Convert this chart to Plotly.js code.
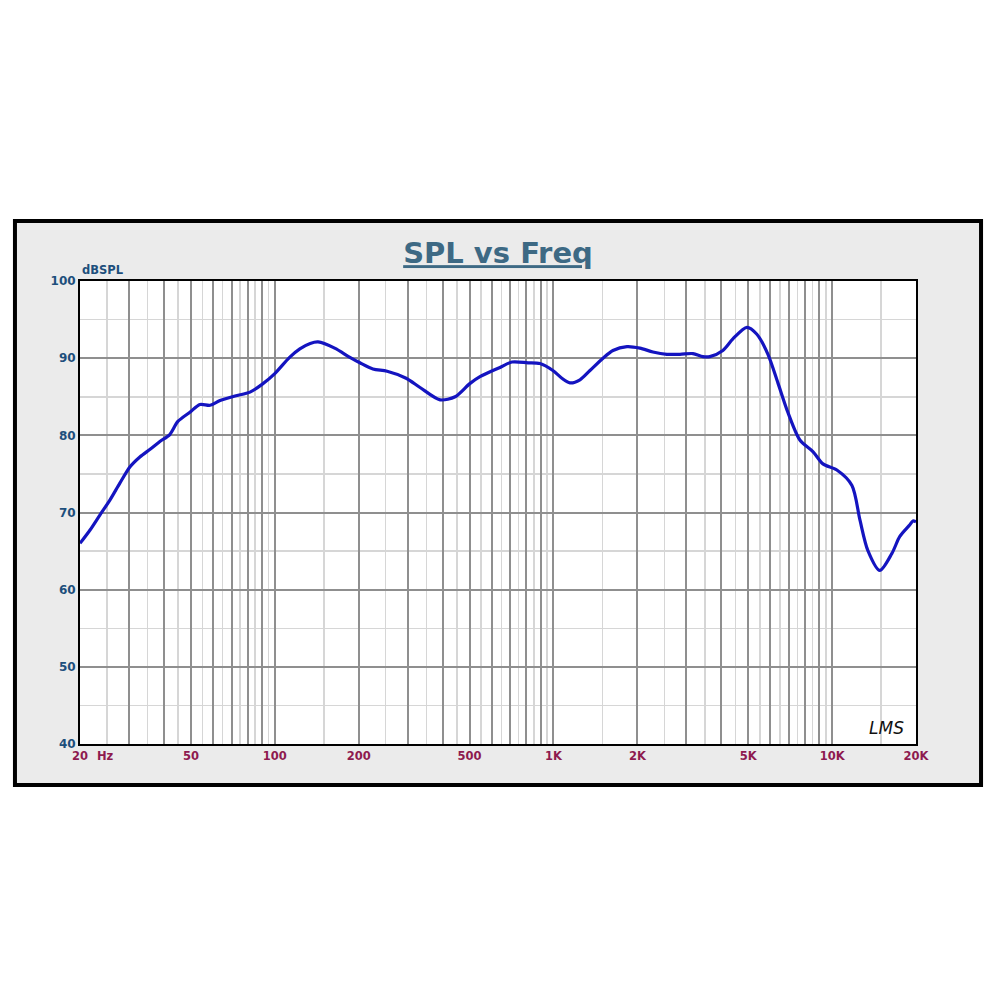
<!DOCTYPE html>
<html>
<head>
<meta charset="utf-8">
<script src="https://cdn.plot.ly/plotly-3.0.1.min.js"></script>
<style>html,body{margin:0;padding:0;background:#fff;}#chart{width:1000px;height:1000px;}</style>
</head>
<body>
<div id="chart"></div>
<script>
// Frequency response
const freqHz = [20, 21.7, 23.6, 25.6, 27.8, 30.2, 32.8, 35.7, 38.7, 42, 44.9, 49.6, 53.9, 58.6, 63.6, 72, 81.5, 90, 100, 113, 123, 134, 143, 164, 186, 202, 225, 253, 296, 332, 392, 444, 501, 545, 643, 710, 810, 894, 995, 1072, 1146, 1245, 1352, 1506, 1635, 1836, 2043, 2275, 2553, 2845, 3165, 3437, 3641, 4055, 4405, 4945, 5370, 5885, 6390, 6935, 7660, 8530, 9270, 10400, 11780, 12590, 13430, 14830, 16390, 17500, 19010, 19500, 20000];
const splDb = [66.0, 67.7, 69.7, 71.6, 73.8, 75.9, 77.2, 78.2, 79.2, 80.1, 81.8, 83.0, 84.0, 83.9, 84.5, 85.1, 85.6, 86.6, 88.0, 90.1, 91.2, 91.9, 92.1, 91.3, 90.1, 89.4, 88.6, 88.3, 87.4, 86.2, 84.6, 85.0, 86.7, 87.6, 88.8, 89.5, 89.4, 89.3, 88.4, 87.4, 86.8, 87.2, 88.4, 90.0, 91.0, 91.5, 91.3, 90.8, 90.5, 90.5, 90.6, 90.2, 90.2, 91.0, 92.5, 94.0, 93.1, 90.5, 86.8, 83.0, 79.4, 77.9, 76.3, 75.5, 73.5, 69.0, 65.1, 62.5, 64.7, 66.9, 68.4, 68.9, 68.8];

// Axis ticks
const xMajorVals = [20, 30, 40, 50, 60, 70, 80, 90, 100, 200, 300, 400, 500, 600, 700, 800, 900, 1000, 2000, 3000, 4000, 5000, 6000, 7000, 8000, 9000, 10000, 20000];
const xMajorText = ['20', '', '', '50', '', '', '', '', '100', '200', '', '', '500', '', '', '', '', '1K', '2K', '', '', '5K', '', '', '', '', '10K', '20K'];
const xMinorVals = [25, 35, 45, 55, 65, 75, 85, 95, 150, 250, 350, 450, 550, 650, 750, 850, 950, 1500, 2500, 3500, 4500, 5500, 6500, 7500, 8500, 9500, 15000];
const yMajorVals = [40, 50, 60, 70, 80, 90, 100];
const yMajorText = ['40', '50', '60', '70', '80', '90', '100'];
const yMinorVals = [45, 55, 65, 75, 85, 95];

const trace = {
  x: freqHz, y: splDb, type: 'scatter', mode: 'lines',
  line: {color: '#1414c0', width: 3.2, shape: 'spline', smoothing: 0.8},
  hoverinfo: 'skip'
};

const layout = {
  width: 1000, height: 1000,
  margin: {l: 80, r: 84, t: 281, b: 256, pad: 0},
  paper_bgcolor: '#ffffff',
  plot_bgcolor: '#ffffff',
  showlegend: false,
  title: {
    text: '<b><u>SPL vs Freq</u></b>',
    font: {family: 'DejaVu Sans', size: 29, color: '#3d6984'},
    x: 0.498, xanchor: 'center', xref: 'container',
    y: 0.747, yanchor: 'middle', yref: 'container'
  },
  xaxis: {
    type: 'log', range: [Math.log10(20), Math.log10(20000)],
    tickmode: 'array', tickvals: xMajorVals, ticktext: xMajorText,
    tickfont: {family: 'DejaVu Sans', size: 11.5, color: '#8e1a4f', weight: 'bold'},
    showgrid: true, gridcolor: '#8f8f8f', gridwidth: 2,
    ticks: '', showline: true, linecolor: '#000', linewidth: 2, mirror: true,
    zeroline: false, fixedrange: true,
    minor: {tickmode: 'array', tickvals: xMinorVals, showgrid: true, gridcolor: '#d6d6d6', gridwidth: 1.5, ticks: ''}
  },
  yaxis: {
    range: [40, 100],
    tickmode: 'array', tickvals: yMajorVals, ticktext: yMajorText,
    tickfont: {family: 'DejaVu Sans', size: 12, color: '#1d4f7c', weight: 'bold'},
    showgrid: true, gridcolor: '#8f8f8f', gridwidth: 2,
    ticks: '', showline: true, linecolor: '#000', linewidth: 2, mirror: true,
    zeroline: false, fixedrange: true,
    minor: {tickmode: 'array', tickvals: yMinorVals, showgrid: true, gridcolor: '#d6d6d6', gridwidth: 1.5, ticks: ''}
  },
  shapes: [
    {type: 'rect', xref: 'paper', yref: 'paper', x0: -0.0778, x1: 1.0778, y0: -0.0886, y1: 1.1296,
     fillcolor: '#ebebeb', line: {color: '#000000', width: 4}, layer: 'below'},
    {type: 'rect', xref: 'paper', yref: 'paper', x0: 0, x1: 1, y0: 0, y1: 1,
     fillcolor: '#ffffff', line: {width: 0}, layer: 'below'}
  ],
  annotations: [
    {text: '<b>dBSPL</b>', xref: 'paper', yref: 'paper', x: 0, y: 1, xanchor: 'left', yanchor: 'bottom', yshift: 2,
     showarrow: false, font: {family: 'DejaVu Sans', size: 11.5, color: '#1d4f7c'}},
    {text: '<b>Hz</b>', xref: 'paper', yref: 'paper', x: 0, y: 0, xanchor: 'left', yanchor: 'top', xshift: 15, yshift: -3,
     showarrow: false, font: {family: 'DejaVu Sans', size: 11.5, color: '#8e1a4f'}},
    {text: '<i>LMS</i>', xref: 'paper', yref: 'paper', x: 0.988, y: 0.008, xanchor: 'right', yanchor: 'bottom',
     showarrow: false, font: {family: 'DejaVu Sans', size: 17, color: '#111111'}}
  ]
};

Plotly.newPlot('chart', [trace], layout, {displayModeBar: false, staticPlot: true});
</script>
</body>
</html>
